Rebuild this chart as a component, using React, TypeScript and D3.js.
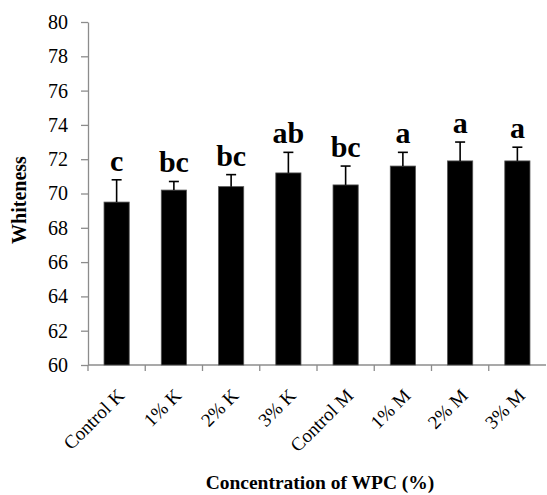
import { useRef, useEffect } from 'react';
import * as d3 from 'd3';

const categories = ['Control K', '1% K', '2% K', '3% K', 'Control M', '1% M', '2% M', '3% M'];
const whiteness = [69.5, 70.2, 70.4, 71.2, 70.5, 71.6, 71.9, 71.9];
const errors = [1.3, 0.5, 0.7, 1.2, 1.1, 0.8, 1.1, 0.8];
const letters = ['c', 'bc', 'bc', 'ab', 'bc', 'a', 'a', 'a'];
const yTicks = [60, 62, 64, 66, 68, 70, 72, 74, 76, 78, 80];

export default function App() {
  const ref = useRef<SVGSVGElement>(null);

  useEffect(() => {
    const svg = d3.select(ref.current);
    svg.selectAll('*').remove();

    const left = 88, right = 546, top = 22, bottom = 365;
    const axisColor = '#8c8c8c';
    const font = '"Liberation Serif", "Times New Roman", serif';

    const x = d3.scaleBand().domain(categories).range([left, right]).paddingInner(0.56).paddingOuter(0.28);
    const y = d3.scaleLinear().domain([60, 80]).range([bottom, top]);

    // y axis
    const ya = svg.append('g').attr('transform', `translate(${left},0)`)
      .call(d3.axisLeft(y).tickValues(yTicks).tickSize(7).tickSizeOuter(0));
    ya.attr('font-family', font).attr('font-size', 20);
    ya.select('.domain').attr('stroke', axisColor).attr('stroke-width', 1.3);
    ya.selectAll('.tick line').attr('stroke', axisColor).attr('stroke-width', 1.3);
    ya.selectAll('.tick text').style('font-family', font).style('font-size', '20px').attr('fill', '#000').attr('x', -20);

    // x axis with ticks at band boundaries
    svg.append('line').attr('x1', left).attr('x2', right).attr('y1', bottom).attr('y2', bottom)
      .attr('stroke', axisColor).attr('stroke-width', 1.3);
    const step = x.step();
    const bounds = d3.range(categories.length).map(i => x(categories[0])! - step * x.paddingOuter() + i * step);
    svg.append('g').selectAll('line').data(bounds).join('line')
      .attr('x1', d => d).attr('x2', d => d).attr('y1', bottom).attr('y2', bottom + 6)
      .attr('stroke', axisColor).attr('stroke-width', 1.3);

    // bars
    svg.append('g').selectAll('rect').data(whiteness).join('rect')
      .attr('x', (d, i) => x(categories[i])!)
      .attr('y', d => y(d))
      .attr('width', x.bandwidth())
      .attr('height', d => bottom - y(d))
      .attr('fill', '#000')
      .attr('stroke', '#555').attr('stroke-width', 0.8);

    // error bars
    const eg = svg.append('g').attr('stroke', '#000').attr('stroke-width', 1.6);
    whiteness.forEach((d, i) => {
      const cx = x(categories[i])! + x.bandwidth() / 2;
      eg.append('line').attr('x1', cx).attr('x2', cx).attr('y1', y(d)).attr('y2', y(d + errors[i]));
      eg.append('line').attr('x1', cx - 5).attr('x2', cx + 5).attr('y1', y(d + errors[i])).attr('y2', y(d + errors[i]));
    });

    // significance letters
    svg.append('g').selectAll('text').data(letters).join('text')
      .attr('x', (d, i) => x(categories[i])! + x.bandwidth() / 2)
      .attr('y', (d, i) => y(whiteness[i] + errors[i]) - 9)
      .attr('text-anchor', 'middle')
      .style('font-family', font).attr('font-weight', 'bold').style('font-size', '30px')
      .text(d => d);

    // x tick labels
    svg.append('g').selectAll('text').data(categories).join('text')
      .attr('transform', d => `translate(${x(d)! + x.bandwidth() / 2 + 4},${bottom + 27}) rotate(-45)`)
      .attr('text-anchor', 'end')
      .attr('dy', '0.35em')
      .style('font-family', font).style('font-size', '19px')
      .text(d => d);

    // axis titles
    svg.append('text')
      .attr('transform', `translate(26,200) rotate(-90)`)
      .attr('text-anchor', 'middle')
      .style('font-family', font).attr('font-weight', 'bold').style('font-size', '20px')
      .text('Whiteness');
    svg.append('text')
      .attr('x', 320).attr('y', 489)
      .attr('text-anchor', 'middle')
      .style('font-family', font).attr('font-weight', 'bold').style('font-size', '19.5px')
      .text('Concentration of WPC (%)');
  }, []);

  return (
    <svg ref={ref} width={547} height={495} style={{ position: 'absolute', left: 0, top: 0, background: '#fff' }}></svg>
  );
}
